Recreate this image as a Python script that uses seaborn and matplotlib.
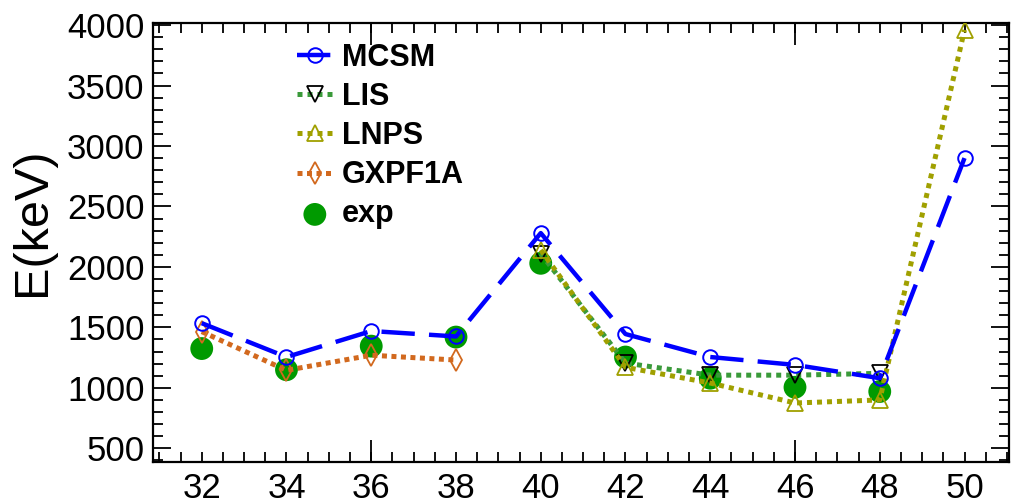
import matplotlib
matplotlib.use("Agg")
import matplotlib.pyplot as plt
from matplotlib.ticker import MultipleLocator, FixedLocator
import seaborn as sns

# Neutron numbers and excitation energies (keV)
n_all = [32, 34, 36, 38, 40, 42, 44, 46, 48, 50]
mcsm = [1535, 1255, 1470, 1425, 2280, 1445, 1255, 1190, 1080, 2900]

n_lis = [40, 42, 44, 46, 48]
lis = [2110, 1205, 1105, 1105, 1120]

n_lnps = [40, 42, 44, 46, 48, 50]
lnps = [2140, 1170, 1040, 875, 900, 3960]

n_gxpf = [32, 34, 36, 38]
gxpf1a = [1465, 1145, 1270, 1230]

n_exp = [32, 34, 36, 38, 40, 42, 44, 46, 48]
exp = [1325, 1150, 1345, 1420, 2030, 1255, 1080, 1005, 970]

x_labels = [32, 34, 36, 38, 40, 42, 44, 46, 48, 50]

sns.set_style("ticks")
plt.rcParams["font.family"] = ["Liberation Sans", "DejaVu Sans"]
plt.rcParams["axes.linewidth"] = 1.6
plt.rcParams["text.color"] = "black"
plt.rcParams["axes.labelcolor"] = "black"
plt.rcParams["xtick.color"] = "black"
plt.rcParams["ytick.color"] = "black"
plt.rcParams["axes.edgecolor"] = "black"

fig = plt.figure(figsize=(10.13, 5.04), dpi=100)
ax = fig.add_axes([153 / 1013, 42 / 504, 856 / 1013, 439 / 504])

# experimental points underneath the calculations
sns.scatterplot(x=n_exp, y=exp, ax=ax, s=270, color="#009a00",
                edgecolor="none", label="exp", zorder=2, legend=False)

sns.lineplot(x=n_gxpf, y=gxpf1a, ax=ax, color="#d2691e", lw=3.6,
             linestyle=(0, (1.0, 0.9)), marker="d", markersize=11,
             markerfacecolor="none", markeredgecolor="#d2691e",
             markeredgewidth=1.3, label="GXPF1A", zorder=3, sort=False)

sns.lineplot(x=n_lis, y=lis, ax=ax, color="#3a9a3a", lw=3.6,
             linestyle=(0, (1.0, 1.0)), marker="v", markersize=11,
             markerfacecolor="none", markeredgecolor="black",
             markeredgewidth=1.3, label="LIS", zorder=4, sort=False)

sns.lineplot(x=n_lnps, y=lnps, ax=ax, color="#a0a000", lw=3.6,
             linestyle=(0, (1.0, 1.0)), marker="^", markersize=11,
             markerfacecolor="none", markeredgecolor="#a0a000",
             markeredgewidth=1.3, label="LNPS", zorder=5, sort=False)

sns.lineplot(x=n_all, y=mcsm, ax=ax, color="#0000ff", lw=3.2,
             linestyle=(0, (7.5, 3.2)), marker="o", markersize=10.5,
             markerfacecolor="none", markeredgecolor="#0000ff",
             markeredgewidth=1.4, label="MCSM", zorder=6, sort=False)

ax.set_xlim(30.85, 51.05)
ax.set_ylim(387, 4017)

ax.set_xlabel("")
ax.set_ylabel("E(keV)", fontsize=35)
ax.yaxis.set_label_coords(-0.114, 0.548)

# x axis: labels at even N, fine ticks every half unit
ax.xaxis.set_major_locator(FixedLocator(x_labels))
ax.set_xticklabels([str(v) for v in x_labels])
ax.xaxis.set_minor_locator(MultipleLocator(0.5))
ax.yaxis.set_major_locator(MultipleLocator(500))
ax.yaxis.set_minor_locator(MultipleLocator(100))

ax.tick_params(axis="x", which="both", direction="in", top=True,
               length=7, width=1.3, labelsize=25, pad=7)
ax.tick_params(axis="y", which="major", direction="in", right=True,
               length=13, width=1.3, labelsize=25, pad=6)
ax.tick_params(axis="y", which="minor", direction="in", right=True,
               length=7, width=1.3)

# long division ticks along both horizontal edges
for side in ("bottom", "top"):
    sec = ax.secondary_xaxis(side)
    sec.set_xticks([36, 46])
    sec.tick_params(direction="in", length=16, width=1.3,
                    labelbottom=False, labeltop=False)
    for sp in sec.spines.values():
        sp.set_visible(False)

for sp in ax.spines.values():
    sp.set_visible(True)
    sp.set_color("black")

handles, labels = ax.get_legend_handles_labels()
order = ["MCSM", "LIS", "LNPS", "GXPF1A", "exp"]
hmap = dict(zip(labels, handles))
ax.legend([hmap[k] for k in order], order, loc="upper left",
          bbox_to_anchor=(0.168, 0.955), frameon=False,
          prop={"weight": "bold", "size": 22}, handlelength=1.18,
          handletextpad=0.3, labelspacing=0.3, borderpad=0,
          borderaxespad=0, markerscale=1.0)

fig.savefig("out.png", dpi=100)
